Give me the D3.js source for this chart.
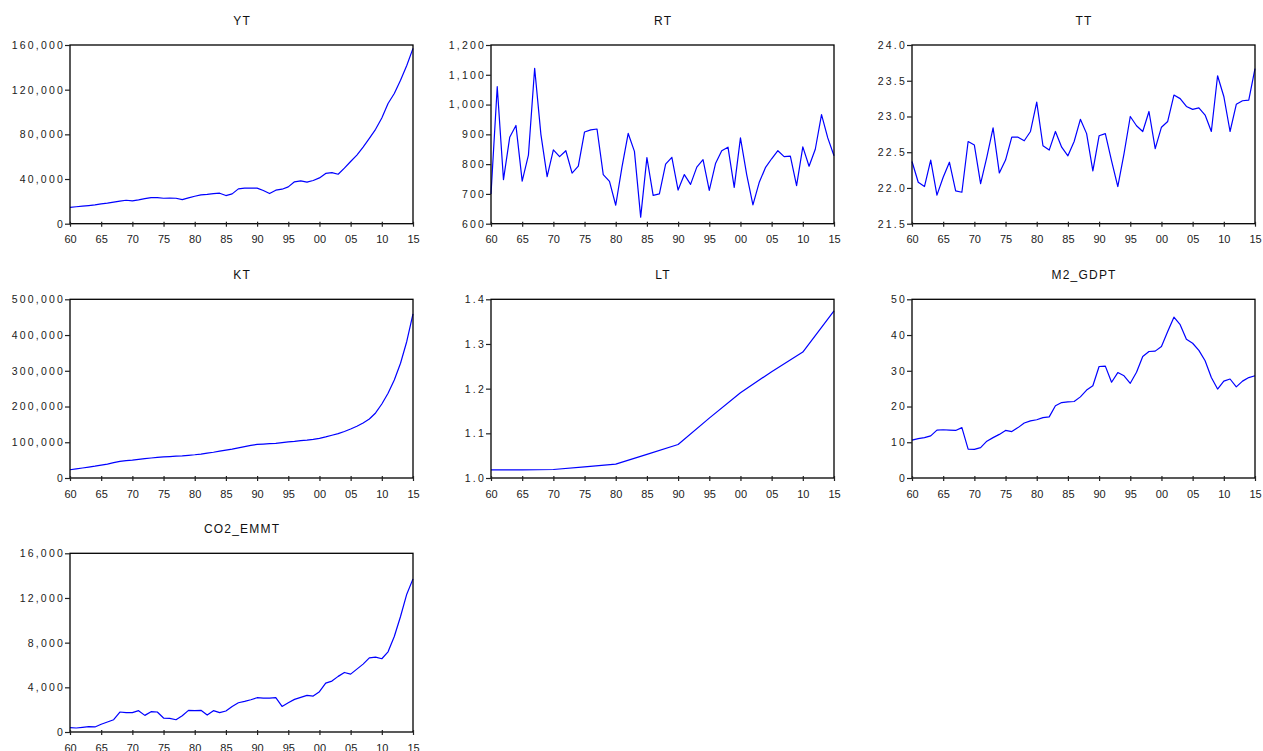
<!DOCTYPE html>
<html><head><meta charset="utf-8">
<script src="https://cdn.jsdelivr.net/npm/d3@7"></script>
<style>body{margin:0;background:#fff}svg{display:block}</style>
</head><body>
<svg id="c" width="1263" height="751"></svg>
<script>
const years = d3.range(1960, 2016);
const xTickYears = [1960,1965,1970,1975,1980,1985,1990,1995,2000,2005,2010,2015];

const ytValues = [14700,15200,15700,16200,16800,17700,18400,19300,20200,21000,
  20400,21300,22400,23400,23400,22800,22900,22800,21600,23100,
  24600,25800,26300,27000,27300,25200,26700,31200,31800,31800,
  31800,29700,27000,30000,30900,33000,37500,38400,37200,38700,
  41000,45000,45800,44300,49700,55700,61400,68600,76400,84500,
  94700,107600,116600,128500,141700,157000];
const rtValues = [700,1060,748,890,930,743,830,1122,900,758,
  848,825,845,770,793,908,915,918,765,742,
  662,790,903,843,622,822,695,700,800,823,
  713,765,732,790,815,712,802,845,857,722,
  888,765,663,738,788,818,845,825,827,728,
  858,793,850,966,888,828];
const ttValues = [22.37,22.08,22.02,22.39,21.90,22.15,22.36,21.96,21.94,22.65,
  22.60,22.06,22.43,22.84,22.21,22.39,22.71,22.71,22.66,22.79,
  23.20,22.59,22.53,22.79,22.57,22.45,22.65,22.96,22.76,22.24,
  22.73,22.76,22.38,22.02,22.48,23.00,22.87,22.79,23.07,22.55,
  22.85,22.93,23.30,23.25,23.14,23.10,23.12,23.02,22.79,23.57,
  23.28,22.79,23.17,23.22,23.23,23.67];
const ktValues = [23000,25500,28000,30500,33000,36000,39000,43000,46500,48500,
  50000,52000,54000,56000,57500,59000,60000,61000,62000,63500,
  65000,67000,69500,72000,75000,78000,81000,84500,88000,91500,
  94000,95000,96000,97000,99000,101000,102500,104500,106000,108000,
  111000,115000,119500,124000,130000,137000,145000,154000,165000,182000,
  207000,237000,274000,321000,382000,459000];
const ltYears = [1960,1965,1970,1975,1980,1985,1990,1995,2000,2005,2010,2015];
const ltValues = [1.018,1.018,1.019,1.025,1.031,1.053,1.075,1.134,1.191,1.238,1.282,1.374];
const m2Values = [10.6,11.0,11.3,11.8,13.4,13.5,13.4,13.3,14.1,8.1,
  8.0,8.5,10.3,11.3,12.2,13.3,13.0,14.1,15.4,16.0,
  16.3,16.9,17.1,20.2,21.1,21.3,21.4,22.7,24.6,25.8,
  31.2,31.3,26.8,29.5,28.6,26.5,29.6,34.0,35.4,35.5,
  36.8,41.0,45.0,42.9,38.8,37.7,35.7,32.8,28.1,24.9,
  27.1,27.7,25.5,27.1,28.1,28.6];
const co2Values = [390,360,420,480,450,690,890,1100,1790,1730,
  1730,1910,1490,1820,1790,1250,1220,1100,1460,1940,
  1910,1940,1520,1910,1730,1880,2290,2620,2740,2890,
  3070,3040,3040,3070,2290,2620,2920,3100,3280,3220,
  3610,4380,4560,4980,5330,5180,5630,6080,6640,6700,
  6560,7180,8550,10340,12340,13710];

const titles = ["YT","RT","TT","KT","LT","M2_GDPT","CO2_EMMT"];
const ytTicks = [0,40000,80000,120000,160000];
const rtTicks = [600,700,800,900,1000,1100,1200];
const ttTicks = [21.5,22.0,22.5,23.0,23.5,24.0];
const ktTicks = [0,100000,200000,300000,400000,500000];
const ltTicks = [1.0,1.1,1.2,1.3,1.4];
const m2Ticks = [0,10,20,30,40,50];
const co2Ticks = [0,4000,8000,12000,16000];

const fComma = d3.format(",");
const f1 = d3.format(".1f");
const fInt = d3.format("d");

const panels = [
  {t:titles[0], xs:years, v:ytValues, ticks:ytTicks, fmt:fComma},
  {t:titles[1], xs:years, v:rtValues, ticks:rtTicks, fmt:fComma},
  {t:titles[2], xs:years, v:ttValues, ticks:ttTicks, fmt:f1},
  {t:titles[3], xs:years, v:ktValues, ticks:ktTicks, fmt:fComma},
  {t:titles[4], xs:ltYears, v:ltValues, ticks:ltTicks, fmt:f1},
  {t:titles[5], xs:years, v:m2Values, ticks:m2Ticks, fmt:fInt},
  {t:titles[6], xs:years, v:co2Values, ticks:co2Ticks, fmt:fComma}
];

const colLeft = [70, 491, 912];
const rowTop = [45, 299.3, 553.3];
const W = 343, H = 178.7;
const FONT = "'Liberation Sans', Arial, Helvetica, sans-serif";

const svg = d3.select("#c");

panels.forEach((p, i) => {
  const col = i % 3, row = Math.floor(i / 3);
  const g = svg.append("g").attr("transform", `translate(${colLeft[col]},${rowTop[row]})`);
  const x = d3.scaleLinear().domain([1960, 2015]).range([0, W]);
  const dom = d3.extent(p.ticks);
  const y = d3.scaleLinear().domain(dom).range([H, 0]);

  // title
  g.append("text")
    .attr("x", W / 2 + 0.6).attr("y", -20)
    .attr("text-anchor", "middle")
    .style("font-family", FONT).style("font-size", "12px")
    .style("letter-spacing", "1.2px")
    .attr("fill", "#111")
    .text(p.t);

  // line
  const line = d3.line().x((d, j) => x(p.xs[j])).y(d => y(d));
  g.append("path").datum(p.v)
    .attr("d", line)
    .attr("fill", "none").attr("stroke", "#0000ff").attr("stroke-width", 1.2)
    .attr("stroke-linejoin", "round");

  // frame
  g.append("rect").attr("x", 0).attr("y", 0).attr("width", W).attr("height", H)
    .attr("fill", "none").attr("stroke", "#000").attr("stroke-width", 1.3);

  // y axis
  const ya = g.append("g").call(d3.axisLeft(y).tickValues(p.ticks).tickSize(5).tickPadding(0).tickFormat(p.fmt));
  ya.select(".domain").remove();
  ya.selectAll("line").attr("stroke", "#222").attr("stroke-width", 1.2);
  ya.selectAll("text")
    .attr("x", -5)
    .style("font-family", FONT).style("font-size", "10.5px")
    .style("letter-spacing", "2.2px").attr("fill", "#222");

  // x axis
  const xa = g.append("g").attr("transform", `translate(0,${H})`)
    .call(d3.axisBottom(x).tickValues(xTickYears).tickSize(3).tickPadding(9)
      .tickFormat(d => String(d % 100).padStart(2, "0")));
  xa.select(".domain").remove();
  xa.selectAll("line").attr("y1", -2).attr("y2", 3).attr("stroke", "#222").attr("stroke-width", 1.2);
  xa.selectAll("text")
    .style("font-family", FONT).style("font-size", "11px").attr("fill", "#222");
});
</script>
</body></html>
